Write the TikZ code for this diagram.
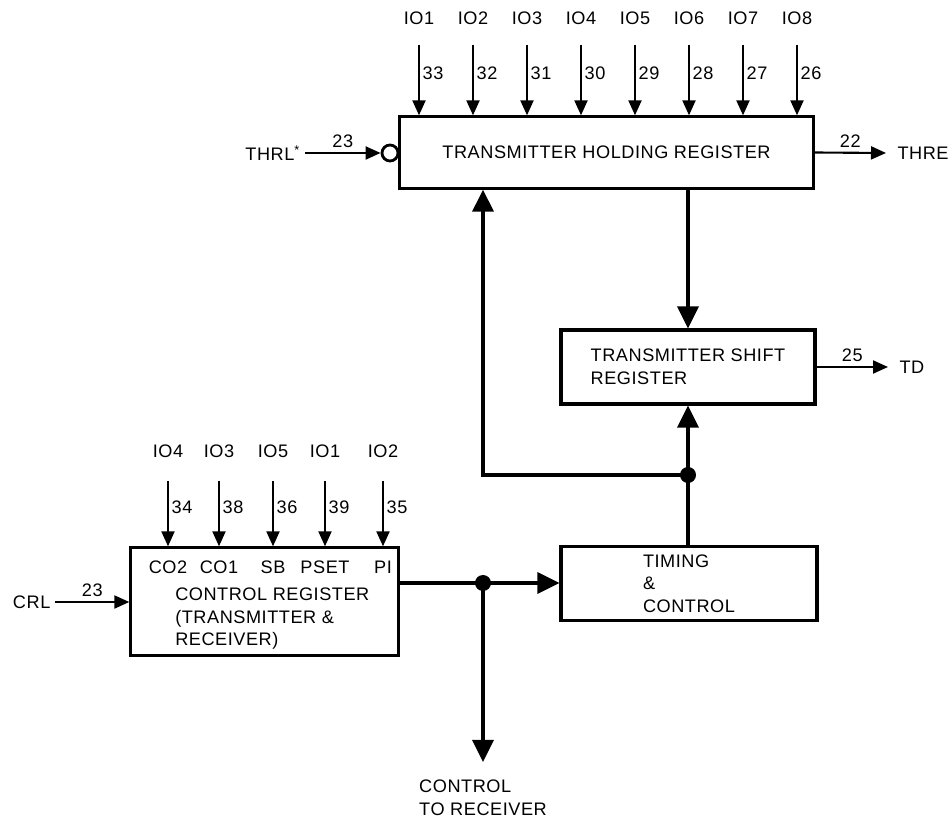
\documentclass[tikz,border=0pt]{standalone}
\usepackage{fontspec}
\setmainfont[LetterSpace=3]{Liberation Sans}
\usetikzlibrary{arrows.meta}

\begin{document}
\begin{tikzpicture}[x=0.025cm,y=-0.025cm,font=\fontsize{12.9}{16}\selectfont]
			\tikzstyle{blk}=[draw, line width=2.2pt, inner sep=0pt, align=left]
			\tikzstyle{bus}=[line width=2.4pt, -{Triangle[length=5.5mm,width=5.25mm]}]
			\tikzstyle{sig}=[line width=1.5pt, -{Triangle[length=3.75mm,width=3.25mm]}]
			\tikzstyle{num}=[anchor=west, inner sep=1pt]

			\useasboundingbox (0,0) rectangle (948,819);

			\node (thr) [blk, minimum width=10.33cm, minimum height=1.78cm] at (606.5,152.5) {TRANSMITTER HOLDING REGISTER};
			\node (tsr) [blk, minimum width=6.35cm, minimum height=1.85cm] at (688,367) {TRANSMITTER SHIFT\\REGISTER};
			\node (tc) [blk, minimum width=6.4cm, minimum height=1.83cm] at (689,583.5) {TIMING\\\&\\CONTROL};
			\node (creg) [blk, minimum width=6.68cm, minimum height=2.68cm] at (264.5,601.5) {};
			\node (cregtxt) [anchor=north west, align=left, inner sep=0pt] at (175,588) {CONTROL REGISTER\\(TRANSMITTER \&\\RECEIVER)};

			% data inputs of the holding register
			\foreach \i/\x/\p in {1/419/33, 2/473/32, 3/527/31, 4/581/30, 5/635/29, 6/689/28, 7/743/27, 8/797/26} {
				\node (io\i) at (\x,18) {IO\i};
				\coordinate (t\i) at (\x,45);
				\draw [sig] (t\i) -- (t\i |- thr.north);
				\node (p\i) [num] at (\x+2,73) {\p};
			}

			% inputs of the control register
			\foreach \i/\x/\io/\p/\b in {1/168/4/34/CO2, 2/219/3/38/CO1, 3/273/5/36/SB, 4/325/1/39/PSET, 5/383/2/35/PI} {
				\node (cio\i) at (\x,451) {IO\io};
				\coordinate (c\i) at (\x,481);
				\draw [sig] (c\i) -- (c\i |- creg.north);
				\node (cp\i) [num] at (\x+2,507) {\p};
				\node (cb\i) at (\x,567) {\b};
			}

			\node (bub) [circle, draw, line width=2pt, minimum size=0.4cm, inner sep=0pt] at (390,153) {};
			\node (thrl) [anchor=east] at (305,153) {THRL\textsuperscript{*}};
			\draw [sig] (thrl.east) -- (bub.west) node[midway, above] {23};

			\node (thre) [anchor=west, inner xsep=8pt] at (886,153) {THRE};
			\draw [sig] (thr.east) -- (thre.west) node[midway, above] {22};

			\node (td) [anchor=west, inner xsep=8pt] at (888,367) {TD};
			\draw [sig] (tsr.east) -- (td.west) node[midway, above] {25};

			\node (crl) [anchor=west] at (8,602) {CRL};
			\draw [sig] (crl.east) -- (crl.east -| creg.west) node[midway, above] {23};

			\coordinate (ja) at (483,583);
			\coordinate (jb) at (688,475);
			\coordinate (rx) at (483,762);

			\draw [bus] (tsr.north |- thr.south) -- (tsr.north);
			\draw [bus] (tsr.south |- tc.north) -- (tsr.south);
			\draw [bus] (jb) -| (thr.south -| ja);
			\draw [bus] (creg.east |- ja) -- (tc.west |- ja);
			\draw [bus] (ja) -- (rx);
			\fill (ja) circle (0.2cm);
			\fill (jb) circle (0.2cm);

			\node (ctr) [anchor=north, align=left, inner sep=0pt] at (483,780) {CONTROL\\TO RECEIVER};
		\end{tikzpicture}
\end{document}
